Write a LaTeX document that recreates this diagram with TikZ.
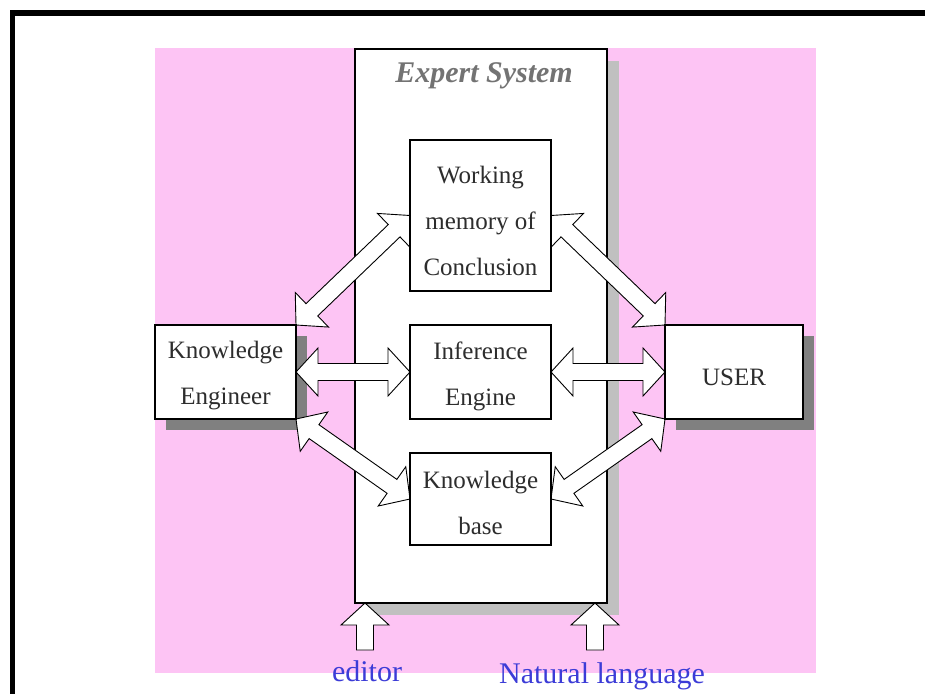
\documentclass[tikz,border=0pt]{standalone}
\usepackage{fontspec}
\setmainfont{Liberation Serif}
\usetikzlibrary{calc,shadows}

\definecolor{paperpink}{RGB}{253,196,244}
\definecolor{lightshade}{RGB}{192,192,192}
\definecolor{darkshade}{RGB}{128,128,128}
\definecolor{boxtext}{RGB}{45,45,45}
\definecolor{titlegray}{RGB}{115,115,115}
\definecolor{labelblue}{RGB}{60,60,215}

\pgfdeclarelayer{paper}
\pgfdeclarelayer{links}
\pgfsetlayers{paper,links,main}

% block arrow dimensions
\newcommand\arrHeadLen{22pt}
\newcommand\arrHeadHalf{24pt}
\newcommand\arrShaftHalf{8.5pt}

% hollow double-headed block arrow between two points
\newcommand\twowayarrow[2]{%
  \draw[blockarrow] (#1)
    -- ($(#1)!\arrHeadLen!(#2)!\arrHeadHalf!90:(#2)$)
    -- ($(#1)!\arrHeadLen!(#2)!\arrShaftHalf!90:(#2)$)
    -- ($(#2)!\arrHeadLen!(#1)!\arrShaftHalf!-90:(#1)$)
    -- ($(#2)!\arrHeadLen!(#1)!\arrHeadHalf!-90:(#1)$)
    -- (#2)
    -- ($(#2)!\arrHeadLen!(#1)!\arrHeadHalf!90:(#1)$)
    -- ($(#2)!\arrHeadLen!(#1)!\arrShaftHalf!90:(#1)$)
    -- ($(#1)!\arrHeadLen!(#2)!\arrShaftHalf!-90:(#2)$)
    -- ($(#1)!\arrHeadLen!(#2)!\arrHeadHalf!-90:(#2)$)
    -- cycle;}

% hollow single-headed block arrow: tip #1, tail #2
\newcommand\onewayarrow[2]{%
  \draw[blockarrow] (#1)
    -- ($(#1)!\arrHeadLen!(#2)!\arrHeadHalf!90:(#2)$)
    -- ($(#1)!\arrHeadLen!(#2)!\arrShaftHalf!90:(#2)$)
    -- ($(#2)!\arrShaftHalf!-90:(#1)$)
    -- ($(#2)!\arrShaftHalf!90:(#1)$)
    -- ($(#1)!\arrHeadLen!(#2)!\arrShaftHalf!-90:(#2)$)
    -- ($(#1)!\arrHeadLen!(#2)!\arrHeadHalf!-90:(#2)$)
    -- cycle;}

\begin{document}
\begin{tikzpicture}[x=1pt,y=-1pt,
  unitbox/.style={draw=black, line width=1.3pt, fill=white, inner sep=0pt,
    outer sep=0pt},
  unittext/.style={text=boxtext, align=center, inner sep=0pt,
    font=\fontsize{25}{46}\selectfont},
  blockarrow/.style={draw=black, line width=0.9pt, fill=white, line join=miter},
  sidelabel/.style={text=labelblue, inner sep=0pt, anchor=base,
    font=\fontsize{30}{35}\selectfont}]
\useasboundingbox (0,0) rectangle (925,693);
\clip (0,0) rectangle (925,693);

% page frame
\draw[line width=5.5pt] (12.5,720) -- (12.5,13) -- (940,13);

% components
\node[unitbox, minimum width=141pt, minimum height=151pt] (wm) at (480.5,215.5) {};
\node[unitbox, minimum width=141pt, minimum height=94pt] (ie) at (480.5,372) {};
\node[unitbox, minimum width=141pt, minimum height=92pt] (kb) at (480.5,499) {};
\node[unitbox, minimum width=141pt, minimum height=94pt] (ke) at (225.5,372) {};
\node[unitbox, minimum width=138pt, minimum height=94pt] (user) at (734,372) {};

\node[unittext] (wmtext) at ($(wm.center)+(0,5)$) {Working\\memory of\\Conclusion};
\node[unittext] (ietext) at ($(ie.center)+(0,4)$) {Inference\\Engine};
\node[unittext] (kbtext) at ($(kb.center)+(0,4)$) {Knowledge\\base};
\node[unittext] (ketext) at ($(ke.center)+(0,4)$) {Knowledge\\Engineer};
\node[unittext] (usertext) at ($(user.center)+(0,5)$) {USER};

% backdrop, system frame and shadows
\begin{pgfonlayer}{paper}
  \fill[paperpink] (155,48) rectangle (816,673);
  \node[draw=black, line width=1.3pt, fill=white, inner sep=0pt, outer sep=0pt,
    minimum width=252pt, minimum height=554pt,
    general shadow={fill=lightshade, shadow xshift=12pt, shadow yshift=-12pt}]
    (es) at (481,326) {};
  \fill[darkshade] ($(ke.south west)+(11,11)$) rectangle ($(ke.north east)+(11,11)$);
  \fill[darkshade] ($(user.south west)+(11,11)$) rectangle ($(user.north east)+(11,11)$);
\end{pgfonlayer}

\node[text=titlegray, font=\fontsize{30}{36}\selectfont\bfseries\itshape]
  (estitle) at (484,76) {Expert System};

% interactions
\begin{pgfonlayer}{links}
  \twowayarrow{ke.north east}{wm.west}
  \twowayarrow{wm.east}{user.north west}
  \twowayarrow{ke.east}{ie.west}
  \twowayarrow{ie.east}{user.west}
  \twowayarrow{ke.south east}{kb.west}
  \twowayarrow{kb.east}{user.south west}

  \coordinate (edtip) at ($(es.south west)+(10,0)$);
  \coordinate (edtail) at ($(edtip)+(0,47)$);
  \coordinate (nltip) at ($(es.south east)+(-12,0)$);
  \coordinate (nltail) at ($(nltip)+(0,47)$);
  \onewayarrow{edtip}{edtail}
  \onewayarrow{nltip}{nltail}
\end{pgfonlayer}

\node[sidelabel] (edlabel) at (367,681) {editor};
\node[sidelabel] (nllabel) at (602,683) {Natural language};
\end{tikzpicture}
\end{document}
